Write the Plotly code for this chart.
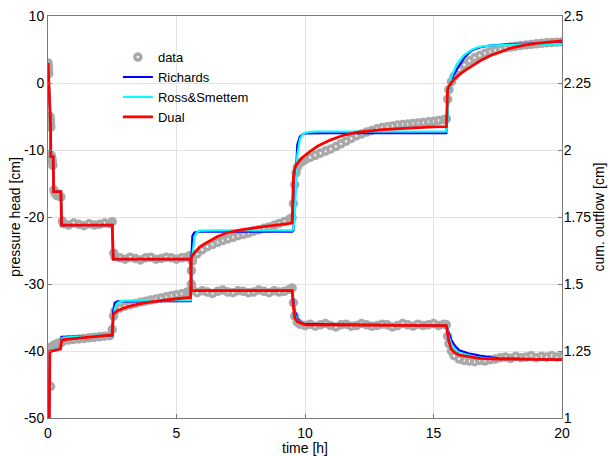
import plotly.graph_objects as go

# ---------------- axis ticks ----------------
x_ticks = [0, 5, 10, 15, 20]
y_ticks = [-50, -40, -30, -20, -10, 0, 10]
y_ticktext = ["-50", "-40", "-30", "-20", "-10", "0", "10"]
y2_ticks = [1.0, 1.25, 1.5, 1.75, 2.0, 2.25, 2.5]
y2_ticktext = ["1", "1.25", "1.5", "1.75", "2", "2.25", "2.5"]
P_RANGE = [-50, 10]
Q_RANGE = [1, 2.5]

# ---------------- measured data ----------------
# pressure head [cm]
t_pd = [0.0, 0.01, 0.02, 0.03, 0.08, 0.09, 0.10, 0.11, 0.13, 0.15, 0.17, 0.19, 0.23, 0.27, 0.31, 0.35, 0.40, 0.45, 0.50,
        0.56, 0.6, 0.8, 1.0, 1.2, 1.4, 1.6, 1.8, 2.0, 2.2, 2.4, 2.5,
        2.56, 2.6, 2.8, 3.0, 3.2, 3.4, 3.6, 3.8, 4.0, 4.2, 4.4, 4.6, 4.8, 5.0, 5.2, 5.4, 5.5,
        5.58, 5.62, 5.8, 6.0, 6.2, 6.4, 6.6, 6.8, 7.0, 7.2, 7.4, 7.6, 7.8, 8.0, 8.2, 8.4, 8.6, 8.8, 9.0, 9.2, 9.4, 9.5,
        9.55, 9.6, 9.7, 9.8, 10.0, 10.2, 10.4, 10.6, 10.8, 11.0, 11.2, 11.4, 11.6, 11.8, 12.0, 12.2, 12.4, 12.6, 12.8,
        13.0, 13.2, 13.4, 13.6, 13.8, 14.0, 14.2, 14.4, 14.6, 14.8, 15.0, 15.2, 15.4, 15.5,
        15.55, 15.6, 15.7, 15.8, 16.0, 16.2, 16.4, 16.6, 16.8, 17.0, 17.2, 17.4, 17.6, 17.8, 18.0, 18.2, 18.4, 18.6,
        18.8, 19.0, 19.2, 19.4, 19.6, 19.8, 20.0]
p_data = [3.0, 2.5, 2.0, 1.4, -5.0, -5.5, -6.0, -6.6, -10.8, -11.2, -11.7, -12.3, -16.0, -16.4, -16.6, -16.8, -16.6, -16.9, -17.0,
          -20.6, -21.0, -21.2, -20.9, -21.1, -21.3, -21.0, -21.2, -21.1, -20.9, -21.0, -20.7,
          -25.4, -25.9, -26.1, -26.3, -26.0, -26.2, -26.4, -26.1, -26.0, -26.3, -26.2, -26.0, -26.1, -26.3, -26.1, -26.0, -25.8,
          -30.0, -30.8, -31.3, -31.0, -31.2, -31.4, -31.1, -30.9, -31.2, -31.3, -31.0, -31.1, -31.3, -31.2, -30.9, -31.1,
          -31.3, -31.0, -31.2, -31.1, -30.8, -30.6,
          -32.8, -34.8, -35.7, -36.0, -36.2, -36.0, -36.3, -36.1, -35.9, -36.2, -36.4, -36.1, -36.0, -36.3, -36.2, -35.9,
          -36.1, -36.3, -36.2, -36.0, -36.1, -36.4, -36.2, -35.9, -36.1, -36.3, -36.0, -36.2, -36.1, -35.9, -36.2, -36.0, -36.1,
          -37.8, -38.9, -40.0, -40.7, -41.2, -41.4, -41.5, -41.6, -41.4, -41.5, -41.3, -41.2, -41.0, -40.9, -41.1, -40.8,
          -41.0, -40.9, -40.7, -41.0, -40.8, -40.9, -40.7, -40.9, -40.8]

# cumulative outflow [cm]
t_qd = [0.10, 0.12, 0.15, 0.2, 0.25, 0.3, 0.35, 0.4, 0.45, 0.5,
        0.56, 0.6, 0.8, 1.0, 1.2, 1.4, 1.6, 1.8, 2.0, 2.2, 2.4, 2.5,
        2.55, 2.6, 2.8, 3.0, 3.2, 3.4, 3.6, 3.8, 4.0, 4.2, 4.4, 4.6, 4.8, 5.0, 5.2, 5.4, 5.5,
        5.58, 5.62, 5.8, 6.0, 6.2, 6.4, 6.6, 6.8, 7.0, 7.2, 7.4, 7.6, 7.8, 8.0, 8.2, 8.4, 8.6, 8.8, 9.0, 9.2, 9.4, 9.5,
        9.55, 9.6, 9.65, 9.7, 9.8, 9.9, 10.0, 10.2, 10.4, 10.6, 10.8, 11.0, 11.2, 11.4, 11.6, 11.8, 12.0, 12.2, 12.4,
        12.6, 12.8, 13.0, 13.2, 13.4, 13.6, 13.8, 14.0, 14.2, 14.4, 14.6, 14.8, 15.0, 15.2, 15.4, 15.5,
        15.55, 15.6, 15.7, 15.8, 16.0, 16.2, 16.4, 16.6, 16.8, 17.0, 17.2, 17.4, 17.6, 17.8, 18.0, 18.2, 18.4, 18.6,
        18.8, 19.0, 19.2, 19.4, 19.6, 19.8, 20.0]
q_data = [1.1175, 1.262, 1.266, 1.27, 1.272, 1.275, 1.276, 1.278, 1.279, 1.281,
          1.286, 1.288, 1.291, 1.293, 1.295, 1.297, 1.299, 1.301, 1.303, 1.305, 1.307, 1.33,
          1.38, 1.398, 1.41, 1.417, 1.422, 1.427, 1.432, 1.436, 1.44, 1.444, 1.448, 1.452, 1.456, 1.46, 1.464, 1.469, 1.473,
          1.55, 1.585, 1.612, 1.628, 1.639, 1.647, 1.655, 1.662, 1.668, 1.674, 1.68, 1.685, 1.69, 1.697, 1.702, 1.708,
          1.713, 1.719, 1.726, 1.733, 1.742, 1.747,
          1.80, 1.87, 1.915, 1.935, 1.95, 1.958, 1.963, 1.972, 1.98, 1.988, 1.996, 2.004, 2.013, 2.023, 2.033, 2.043,
          2.053, 2.06, 2.067, 2.073, 2.079, 2.084, 2.087, 2.09, 2.093, 2.095, 2.097, 2.099, 2.101, 2.103, 2.105, 2.107,
          2.11, 2.113, 2.116,
          2.19, 2.225, 2.255, 2.275, 2.30, 2.318, 2.333, 2.344, 2.353, 2.361, 2.367, 2.372, 2.377, 2.381, 2.384, 2.387,
          2.39, 2.392, 2.394, 2.396, 2.398, 2.40, 2.401, 2.402, 2.403]

# ---------------- model curves ----------------
t_p = [0, 0.08, 0.1, 0.11, 0.2, 0.22, 0.5, 0.53, 2.5, 2.54, 5.55, 5.59, 9.5, 9.55, 9.6, 9.7, 9.85, 10.0,
       15.5, 15.55, 15.6, 15.7, 15.85, 16.0, 16.4, 16.8, 17.5, 20.0]
p_richards = [3.0, -6.0, -6.3, -11.0, -11.0, -16.2, -16.2, -21.2, -21.2, -26.3, -26.3, -31.0, -31.0, -32.5, -34.0,
              -35.2, -35.8, -36.0, -36.2, -36.8, -37.4, -38.4, -39.3, -39.9, -40.4, -40.7, -41.1, -41.3]
p_ross = [3.0, -6.0, -6.3, -11.0, -11.0, -16.2, -16.2, -21.2, -21.2, -26.3, -26.3, -31.0, -31.0, -33.0, -34.6,
          -35.4, -35.9, -36.1, -36.2, -37.0, -37.9, -39.1, -39.8, -40.3, -40.7, -41.0, -41.2, -41.3]
p_dual = [3.0, -6.0, -6.3, -11.0, -11.0, -16.2, -16.2, -21.2, -21.2, -26.3, -26.3, -31.0, -31.0, -33.5, -35.0,
          -35.6, -35.9, -36.1, -36.2, -37.5, -38.6, -39.8, -40.3, -40.6, -40.9, -41.1, -41.2, -41.3]

t_q = [0, 0.05, 0.07, 0.49, 0.53, 0.6, 1.0, 1.5, 2.0, 2.5,
       2.54, 2.6, 2.7, 2.85, 3.0, 3.3, 3.6, 4.0, 4.5, 5.0,
       5.55, 5.58, 5.62, 5.7, 5.8, 5.9, 6.1, 6.3, 6.6, 7.0,
       7.5, 8.0, 8.5, 9.0, 9.5, 9.55, 9.6, 9.65, 9.7, 9.8,
       9.9, 10.0, 10.2, 10.5, 11.0, 11.5, 12.0, 13.0, 14.0, 15.0,
       15.5, 15.55, 15.6, 15.7, 15.8, 15.9, 16.0, 16.2, 16.5, 16.8,
       17.2, 17.6, 18.0, 18.5, 19.0, 20.0]
q_richards = [1.0, 1.0, 1.25, 1.26, 1.3025, 1.303, 1.304, 1.305, 1.306, 1.307,
              1.40, 1.43, 1.435, 1.435, 1.435, 1.435, 1.435, 1.435, 1.435, 1.435,
              1.436, 1.60, 1.68, 1.692, 1.695, 1.695, 1.695, 1.695, 1.695, 1.695,
              1.695, 1.695, 1.695, 1.695, 1.695, 1.70, 1.80, 1.95, 2.02, 2.05,
              2.058, 2.062, 2.0625, 2.0625, 2.0625, 2.0625, 2.0625, 2.0625, 2.0625, 2.0625,
              2.0625, 2.15, 2.22, 2.265, 2.285, 2.30, 2.315, 2.345, 2.372, 2.383,
              2.39, 2.393, 2.395, 2.396, 2.397, 2.398]
q_ross = [1.0, 1.0, 1.25, 1.26, 1.296, 1.30, 1.303, 1.305, 1.307, 1.309,
          1.36, 1.41, 1.43, 1.436, 1.438, 1.438, 1.438, 1.438, 1.439, 1.439,
          1.44, 1.52, 1.61, 1.675, 1.694, 1.699, 1.70, 1.70, 1.70, 1.70,
          1.70, 1.70, 1.70, 1.70, 1.70, 1.705, 1.75, 1.88, 1.98, 2.04,
          2.058, 2.064, 2.068, 2.069, 2.069, 2.069, 2.069, 2.069, 2.069, 2.069,
          2.069, 2.13, 2.21, 2.275, 2.30, 2.318, 2.332, 2.355, 2.375, 2.385,
          2.39, 2.392, 2.393, 2.394, 2.394, 2.395]
q_dual = [1.0, 1.0, 1.2475, 1.2575, 1.29, 1.292, 1.296, 1.30, 1.305, 1.31,
          1.385, 1.393, 1.40, 1.406, 1.412, 1.42, 1.427, 1.433, 1.44, 1.445,
          1.45, 1.5975, 1.607, 1.617, 1.628, 1.638, 1.65, 1.66, 1.677, 1.692,
          1.702, 1.709, 1.715, 1.721, 1.7275, 1.90, 1.93, 1.942, 1.95, 1.962,
          1.972, 1.98, 1.995, 2.015, 2.038, 2.055, 2.066, 2.076, 2.082, 2.086,
          2.0875, 2.225, 2.238, 2.253, 2.264, 2.273, 2.281, 2.295, 2.314, 2.332,
          2.352, 2.367, 2.38, 2.39, 2.398, 2.4075]

models = [
    ("Richards", "#0000ff", 2.2, p_richards, q_richards),
    ("Ross&Smettem", "#00ffff", 2.2, p_ross, q_ross),
    ("Dual", "#ff0000", 2.8, p_dual, q_dual),
]

GRAY = "#a9a9a9"
marker_style = dict(symbol="circle-open", size=6, color=GRAY, line=dict(width=3.5, color=GRAY))

fig = go.Figure()
# data on the two visible axes (drawn first), model lines on two hidden overlay axes (drawn on top)
fig.add_trace(go.Scatter(x=t_pd, y=p_data, yaxis="y", mode="markers", name="data", legendgroup="data",
                         marker=marker_style))
fig.add_trace(go.Scatter(x=t_qd, y=q_data, yaxis="y2", mode="markers", name="data", legendgroup="data",
                         showlegend=False, marker=marker_style))
for name, color, width, p, q in models:
    fig.add_trace(go.Scatter(x=t_p, y=p, yaxis="y3", mode="lines", name=name, legendgroup=name,
                             line=dict(color=color, width=width)))
for name, color, width, p, q in models:
    fig.add_trace(go.Scatter(x=t_q, y=q, yaxis="y4", mode="lines", name=name, legendgroup=name,
                             showlegend=False, line=dict(color=color, width=width)))

AX = "#7a7a7a"
GRID = "#e3e3e3"
fig.update_layout(
    width=610, height=456,
    margin=dict(l=48, r=48, t=16, b=38),
    paper_bgcolor="white", plot_bgcolor="white",
    font=dict(family="Liberation Sans, Arial, sans-serif", size=14, color="black"),
    xaxis=dict(range=[0, 20], tickvals=x_ticks, showgrid=True, gridcolor=GRID, gridwidth=1,
               showline=True, linecolor=AX, linewidth=1, mirror=True, zeroline=False,
               ticks="inside", ticklen=4, tickcolor=AX, automargin=False, ticklabeloverflow="allow",
               ticklabelstandoff=2,
               title=dict(text="time [h]", standoff=0, font=dict(size=14))),
    yaxis=dict(range=P_RANGE, tickvals=y_ticks, ticktext=y_ticktext, showgrid=True, gridcolor=GRID,
               showline=True, linecolor=AX, linewidth=1, mirror=True, zeroline=False,
               ticks="inside", ticklen=4, tickcolor=AX, automargin=False, ticklabeloverflow="allow",
               title=dict(text="pressure head [cm]", standoff=0, font=dict(size=14))),
    yaxis2=dict(range=Q_RANGE, tickvals=y2_ticks, ticktext=y2_ticktext, overlaying="y", side="right",
                showgrid=False, showline=True, linecolor=AX, linewidth=1, zeroline=False,
                ticks="inside", ticklen=4, tickcolor=AX, automargin=False, ticklabeloverflow="allow",
                ticklabelstandoff=-2,
                title=dict(text="cum. outflow [cm]", standoff=0, font=dict(size=14))),
    yaxis3=dict(range=P_RANGE, overlaying="y", visible=False),
    yaxis4=dict(range=Q_RANGE, overlaying="y", visible=False),
    legend=dict(x=0.136, y=0.935, xanchor="left", yanchor="top", bgcolor="rgba(0,0,0,0)",
                font=dict(size=13), borderwidth=0, tracegroupgap=0),
    showlegend=True,
)

# remove the default 8 px page margin so the 610x456 figure fills the window exactly
fig.write_html("out.html", config={"displayModeBar": False},
               post_script="document.body.style.margin='0';")
